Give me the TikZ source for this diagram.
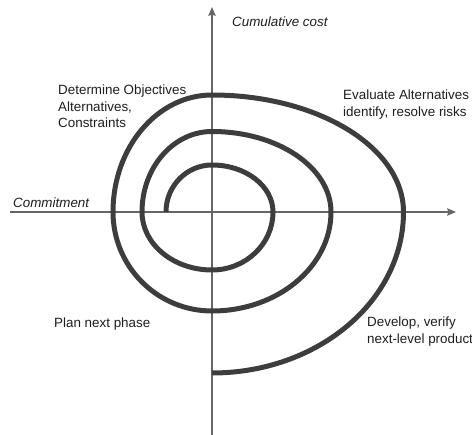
\documentclass[tikz,border=0pt]{standalone}
\usepackage{fontspec}
\setmainfont{Liberation Sans}
\usetikzlibrary{arrows.meta}
\definecolor{spiralgray}{HTML}{3D3D3D}
\definecolor{axisgray}{HTML}{666666}
\definecolor{labelink}{HTML}{1E1E1E}
\begin{document}
\begin{tikzpicture}[x=1pt,y=-1pt,
  axis/.style={draw=axisgray,line width=1.1pt,-{Stealth[length=9pt,width=7.5pt,inset=1.5pt]}},
  spiral/.style={draw=spiralgray,line width=5pt,line join=round,line cap=butt},
  phase/.style={text=labelink,inner sep=0pt,align=left,
    font=\fontsize{13.4}{16.7}\selectfont},
  axislabel/.style={phase,font=\fontsize{13.4}{16.7}\selectfont\itshape}]
\useasboundingbox (0,0) rectangle (472,435);

% axes
\coordinate (ybot) at (212,435);
\coordinate (ytop) at (212,7);
\coordinate (xleft) at (10,212);
\coordinate (xright) at (456,212);
\draw[axis] (ybot) -- (ytop);
\draw[axis] (xleft) -- (xright);

% points where the spiral crosses the axes
\coordinate (s0) at (166,212);
\coordinate (t1) at (212,165);
\coordinate (r1) at (273,212);
\coordinate (b1) at (212,270);
\coordinate (l1) at (142,212);
\coordinate (t2) at (212,131.5);
\coordinate (r2) at (331,212);
\coordinate (b2) at (212,311);
\coordinate (l2) at (113,212);
\coordinate (t3) at (212,95);
\coordinate (r3) at (403.5,212);
\coordinate (e0) at (212,373);

% the spiral, one quarter turn per curve
\draw[spiral] (s0)
  .. controls (166,186) and (186.6,165) .. (t1)
  .. controls (245.7,165) and (273,186) .. (r1)
  .. controls (273,244) and (245.7,270) .. (b1)
  .. controls (173.3,270) and (142,244) .. (l1)
  .. controls (142,167.5) and (173.3,131.5) .. (t2)
  .. controls (277.7,131.5) and (331,167.5) .. (r2)
  .. controls (331,266.7) and (277.7,311) .. (b2)
  .. controls (157.3,311) and (113,266.7) .. (l2)
  .. controls (113,147.4) and (157.3,95) .. (t3)
  .. controls (317.8,95) and (403.5,147.4) .. (r3)
  .. controls (403.5,300.9) and (317.8,373) .. (e0);

% labels
\node[axislabel,anchor=base west] (cost) at (232,26.7) {Cumulative cost};
\node[axislabel,anchor=base west] (commit) at (13,207.7) {Commitment};
\node[phase,anchor=north west] (objectives) at (58,84.4)
  {Determine Objectives\\Alternatives,\\Constraints};
\node[phase,anchor=north west] (evaluate) at (343,89.4)
  {Evaluate Alternatives\\identify, resolve risks};
\node[phase,anchor=base west] (plan) at (54,327.7) {Plan next phase};
\node[phase,anchor=north west] (develop) at (367,316.4)
  {Develop, verify\\next-level product};
\end{tikzpicture}
\end{document}
